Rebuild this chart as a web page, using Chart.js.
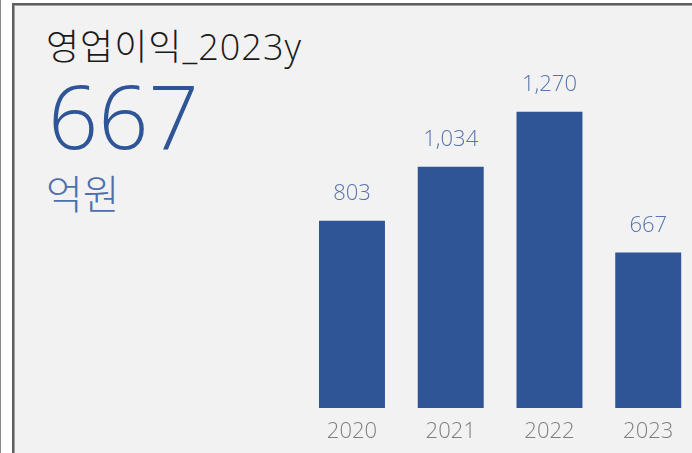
<!DOCTYPE html>
<html>
<head>
<meta charset="utf-8">
<script src="https://cdn.jsdelivr.net/npm/chart.js@4"></script>
<style>
html,body{margin:0;padding:0;width:692px;height:453px;overflow:hidden;background:#ffffff;}
#leftline{position:absolute;left:0;top:0;width:1px;height:453px;background:#8a8a8a;}
#panel{position:absolute;left:12px;top:3px;width:720px;height:480px;box-sizing:border-box;border-left:2px solid #5f5f5f;border-top:2px solid #5f5f5f;box-shadow:inset 1px 1px 0 #a0a0a0;background:#f2f2f2;}
.t{position:absolute;white-space:nowrap;line-height:1;}
#title{left:46px;top:29px;font-family:"Open Sans","Noto Sans CJK KR",sans-serif;font-size:36px;color:#1a1a1a;font-weight:300;letter-spacing:1px;}
#big{left:48px;top:71px;font-family:"Open Sans",sans-serif;font-size:88px;color:#2f5597;font-weight:300;}
#unit{left:46px;top:172px;font-family:"Noto Sans CJK KR",sans-serif;font-size:40px;color:#4e6fae;font-weight:300;}
#wrap{position:absolute;left:0;top:0;width:720px;height:465px;}
</style>
</head>
<body>
<div id="leftline"></div>
<div id="panel"></div>
<div class="t" id="title">영업이익_2023y</div>
<div class="t" id="big">667</div>
<div class="t" id="unit">억원</div>
<div id="wrap"><canvas id="c"></canvas></div>
<script>
const years = ["2020", "2021", "2022", "2023"];
const profit = [803, 1034, 1270, 667];

const valueLabels = {
  id: 'valueLabels',
  afterDatasetsDraw(chart) {
    const ctx = chart.ctx;
    const meta = chart.getDatasetMeta(0);
    ctx.save();
    ctx.font = '300 22px "Open Sans", sans-serif';
    ctx.fillStyle = '#5674ad';
    ctx.textAlign = 'center';
    ctx.textBaseline = 'middle';
    meta.data.forEach((bar, i) => {
      ctx.fillText(profit[i].toLocaleString('en-US'), bar.x, bar.y - 27);
    });
    ctx.restore();
  }
};

new Chart(document.getElementById('c'), {
  type: 'bar',
  data: {
    labels: years,
    datasets: [{
      data: profit,
      backgroundColor: '#2f5597',
      borderWidth: 0,
      categoryPercentage: 1,
      barPercentage: 0.668
    }]
  },
  options: {
    responsive: true,
    maintainAspectRatio: false,
    animation: false,
    events: [],
    layout: { padding: { left: 302.6, right: 22.4, top: 81.5, bottom: 8.6 } },
    plugins: { legend: { display: false }, tooltip: { enabled: false } },
    scales: {
      x: {
        grid: { display: false, drawTicks: false },
        border: { display: false },
        ticks: { color: '#7f7f7f', padding: 11, font: { family: '"Open Sans", sans-serif', size: 22, weight: '300' } }
      },
      y: { display: false, min: 0, max: 1400 }
    }
  },
  plugins: [valueLabels]
});
</script>
</body>
</html>
